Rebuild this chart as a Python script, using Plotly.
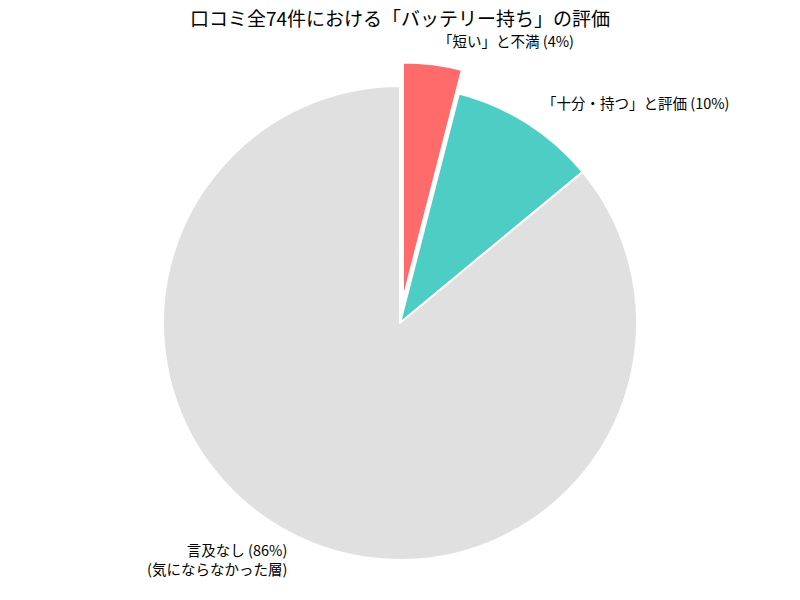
import math
import plotly.graph_objects as go

# data
labels = ["「短い」と不満 (4%)", "「十分・持つ」と評価 (10%)", "言及なし (86%)<br>(気にならなかった層)"]
values = [4, 10, 86]
colors = ["#FF6B6B", "#4ECDC4", "#E0E0E0"]
pulls = [0.1, 0, 0]
title = "口コミ全74件における「バッテリー持ち」の評価"

W, H = 800, 600
cx, cy, r = 400, 323, 237  # pie centre / radius in px
font = "Noto Sans CJK JP, Noto Sans, sans-serif"

# domain big enough so plotly's radius (shrunk for pull) is r
half = r * (1 + max(pulls))
dom_x = [(cx - half) / W, (cx + half) / W]
dom_y = [1 - (cy + half) / H, 1 - (cy - half) / H]

fig = go.Figure(go.Pie(
    labels=labels, values=values, sort=False, direction="clockwise", rotation=0,
    marker=dict(colors=colors, line=dict(color="white", width=2)),
    pull=pulls, textinfo="none", hoverinfo="label", showlegend=False,
    domain=dict(x=dom_x, y=dom_y),
))

# labels at 1.1 r along each slice's bisector (plus pull), like matplotlib
total = sum(values)
start = 90.0
annotations = []
for lab, v, p in zip(labels, values, pulls):
    span = 360.0 * v / total
    mid = math.radians(start - span / 2)
    start -= span
    d = r * (1.1 + p)
    x = cx + d * math.cos(mid)
    y = cy - d * math.sin(mid)
    annotations.append(dict(
        x=x / W, y=1 - y / H, xref="paper", yref="paper", text=lab, showarrow=False,
        xanchor="left" if math.cos(mid) > 0 else "right", yanchor="middle",
        align="left" if math.cos(mid) > 0 else "right",
        font=dict(size=14.5, color="black", family=font),
    ))

fig.update_layout(
    width=W, height=H, margin=dict(l=0, r=0, t=0, b=0),
    paper_bgcolor="white", plot_bgcolor="white",
    title=dict(text=title, x=0.5, xanchor="center", y=1 - 19 / H, yanchor="middle",
               font=dict(size=19, color="black", family=font)),
    annotations=annotations,
    font=dict(family=font),
)

fig.write_html("out.html", config={"displayModeBar": False},
               post_script="document.body.style.margin='0';")
